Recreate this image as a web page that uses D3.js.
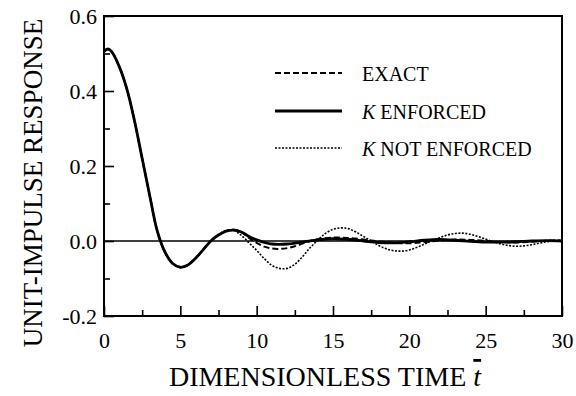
<!DOCTYPE html>
<html>
<head>
<meta charset="utf-8">
<script src="https://cdn.jsdelivr.net/npm/d3@7"></script>
<style>
  body { margin: 0; background: #fff; }
  svg text { font-family: 'Liberation Serif', 'DejaVu Serif', serif !important; fill: #000; }
</style>
</head>
<body>
<svg id="chart" width="576" height="396" font-family="Liberation Serif"></svg>
<script>
// values
const tShared = [0, 0.25, 0.5, 1, 1.5, 2, 2.5, 3, 3.5, 4, 4.5, 5, 5.5, 6, 6.5, 7, 7.5];
const vShared = [0.505, 0.512, 0.505, 0.465, 0.405, 0.32, 0.22, 0.12, 0.025, -0.03, -0.06, -0.07, -0.064, -0.046, -0.023, 0.0, 0.016];

const tEnforced = [8, 8.5, 9, 9.5, 10, 10.5, 11, 12, 13, 14, 15, 16, 17, 18, 19, 20, 21, 22, 23, 24, 25, 26, 27, 28, 29, 30];
const vEnforced = [0.026, 0.029, 0.024, 0.012, 0.003, -0.004, -0.008, -0.008, -0.003, 0.003, 0.006, 0.004, 0.0, -0.004, -0.005, -0.002, 0.002, 0.004, 0.002, -0.001, -0.003, -0.003, -0.002, 0.0, 0.001, 0.0];

const tExact = [8, 8.5, 9, 9.5, 10, 10.5, 11, 11.5, 12, 12.5, 13, 13.5, 14, 15, 16, 17, 18, 19, 20, 21, 22, 23, 24, 25, 26, 27, 28, 29, 30];
const vExact = [0.027, 0.03, 0.024, 0.008, -0.005, -0.015, -0.02, -0.021, -0.019, -0.014, -0.007, 0.0, 0.005, 0.009, 0.008, 0.004, -0.001, -0.005, -0.006, -0.003, 0.001, 0.004, 0.003, 0.0, -0.003, -0.004, -0.002, 0.001, 0.001];

const tNotEnforced = [8, 8.5, 9, 9.5, 10, 10.5, 11, 11.5, 12, 12.5, 13, 13.5, 14, 14.5, 15, 15.5, 16, 16.5, 17, 17.5, 18, 18.5, 19, 19.5, 20, 20.5, 21, 21.5, 22, 22.5, 23, 23.5, 24, 24.5, 25, 25.5, 26, 26.5, 27, 27.5, 28, 28.5, 29, 29.5, 30];
const vNotEnforced = [0.029, 0.028, 0.015, -0.005, -0.025, -0.047, -0.065, -0.073, -0.073, -0.062, -0.042, -0.018, 0.002, 0.02, 0.031, 0.035, 0.033, 0.024, 0.012, 0.0, -0.012, -0.021, -0.026, -0.027, -0.024, -0.017, -0.008, 0.001, 0.009, 0.016, 0.02, 0.021, 0.018, 0.012, 0.005, -0.002, -0.008, -0.012, -0.014, -0.013, -0.01, -0.006, -0.002, 0.001, 0.002];

const xTicks = [0, 5, 10, 15, 20, 25, 30];
const xMinor = [2.5, 7.5, 12.5, 17.5, 22.5, 27.5];
const yTicks = [-0.2, 0, 0.2, 0.4, 0.6];
const yMinor = [-0.1, 0.1, 0.3, 0.5];
const yTickLabels = ['-0.2', '0.0', '0.2', '0.4', '0.6'];

const legendNames = ['EXACT', 'ENFORCED', 'NOT ENFORCED'];

const svg = d3.select('#chart');
const plotLeft = 104, plotTop = 16, plotW = 458, plotH = 300;
const serif = "'Liberation Serif', serif";

const x = d3.scaleLinear().domain([0, 30]).range([plotLeft, plotLeft + plotW]);
const y = d3.scaleLinear().domain([-0.2, 0.6]).range([plotTop + plotH, plotTop]);

function series(ts, vs) {
  const pts = tShared.map((t, i) => ({ t: t, v: vShared[i] }));
  return pts.concat(ts.map((t, i) => ({ t: t, v: vs[i] })));
}

const line = d3.line()
  .x(d => x(d.t))
  .y(d => y(d.v))
  .curve(d3.curveCatmullRom.alpha(0.5));

// zero line
svg.append('line')
  .attr('x1', x(0)).attr('x2', x(30))
  .attr('y1', y(0)).attr('y2', y(0))
  .attr('stroke', '#000').attr('stroke-width', 1.6);

// curves
svg.append('path')
  .datum(series(tNotEnforced, vNotEnforced))
  .attr('fill', 'none').attr('stroke', '#000')
  .attr('stroke-width', 1.6).attr('stroke-dasharray', '2,1.5')
  .attr('d', line);
svg.append('path')
  .datum(series(tExact, vExact))
  .attr('fill', 'none').attr('stroke', '#000')
  .attr('stroke-width', 2).attr('stroke-dasharray', '6,3')
  .attr('d', line);
svg.append('path')
  .datum(series(tEnforced, vEnforced))
  .attr('fill', 'none').attr('stroke', '#000')
  .attr('stroke-width', 2.8)
  .attr('d', line);

// frame
svg.append('rect')
  .attr('x', plotLeft).attr('y', plotTop)
  .attr('width', plotW).attr('height', plotH)
  .attr('fill', 'none').attr('stroke', '#000').attr('stroke-width', 2);

// axes with inward ticks
const xAxis = svg.append('g').attr('transform', 'translate(0,' + (plotTop + plotH) + ')');
xAxis.call(d3.axisBottom(x).tickValues(xTicks).tickSize(-10).tickPadding(16).tickFormat(d3.format('d')));
xAxis.append('g').call(d3.axisBottom(x).tickValues(xMinor).tickSize(-6).tickFormat(''));

const yAxis = svg.append('g').attr('transform', 'translate(' + plotLeft + ',0)');
yAxis.call(d3.axisLeft(y).tickValues(yTicks).tickSize(-10).tickPadding(7).tickFormat((d, i) => yTickLabels[i]));
yAxis.append('g').call(d3.axisLeft(y).tickValues(yMinor).tickSize(-6).tickFormat(''));

svg.selectAll('.domain').remove();
svg.selectAll('g').attr('font-family', serif);
svg.selectAll('.tick line').attr('stroke', '#000').attr('stroke-width', 1.6);
svg.selectAll('.tick text')
  .attr('font-family', serif)
  .attr('font-size', 22).attr('fill', '#000');

// axis titles
svg.append('text')
  .attr('x', 325).attr('y', 386)
  .attr('text-anchor', 'middle')
  .attr('font-family', serif)
  .attr('font-size', 28)
  .html('DIMENSIONLESS TIME <tspan font-style="italic" text-decoration="overline">t</tspan>');

svg.append('text')
  .attr('transform', 'translate(42,183) rotate(-90)')
  .attr('text-anchor', 'middle')
  .attr('font-family', serif)
  .attr('font-size', 27)
  .text('UNIT-IMPULSE RESPONSE');

// legend
const legendY = [73, 111, 148];
const legendStyles = [
  { w: 2, dash: '6,3' },
  { w: 2.8, dash: null },
  { w: 1.6, dash: '2,1.5' }
];
legendNames.forEach((name, i) => {
  svg.append('line')
    .attr('x1', 275).attr('x2', 342)
    .attr('y1', legendY[i]).attr('y2', legendY[i])
    .attr('stroke', '#000')
    .attr('stroke-width', legendStyles[i].w)
    .attr('stroke-dasharray', legendStyles[i].dash);
  const t = svg.append('text')
    .attr('x', 362).attr('y', legendY[i] + 8)
    .attr('font-family', serif)
    .attr('font-size', 20);
  if (i > 0) {
    t.append('tspan').attr('font-style', 'italic').text('K ');
  }
  t.append('tspan').text(name);
});
</script>
</body>
</html>
